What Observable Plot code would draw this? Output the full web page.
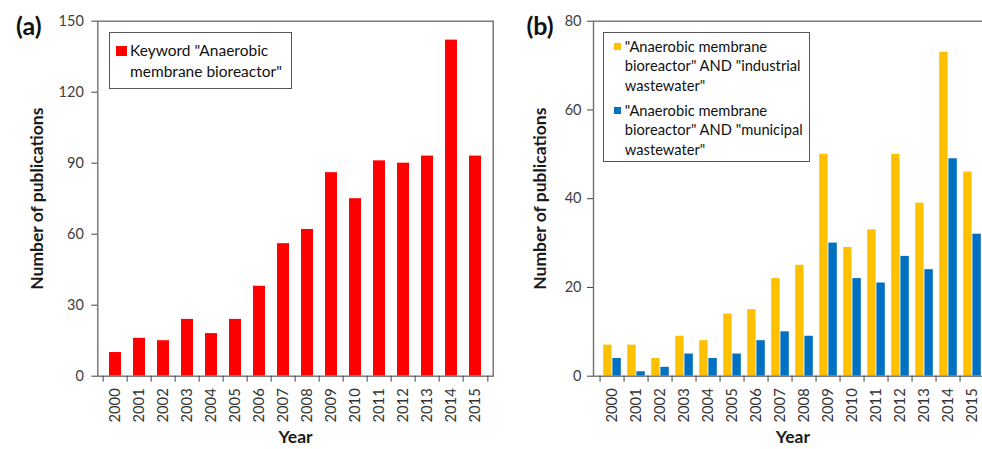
<!DOCTYPE html>
<html>
<head>
<meta charset="utf-8">
<script src="https://cdn.jsdelivr.net/npm/d3@7"></script>
<script src="https://cdn.jsdelivr.net/npm/@observablehq/plot@0.6"></script>
<style>
  html, body { margin: 0; padding: 0; background: #fff; overflow: hidden; }
  #wrap { position: relative; width: 982px; height: 449px; overflow: hidden; font-family: Lato, "Open Sans", sans-serif; }
  .panel { position: absolute; top: 0; }
  .legend { position: absolute; border: 1.5px solid #555; background: #fff; box-sizing: border-box; color: #111; font-family: Lato, sans-serif; }
  .item { position: absolute; }
  .sw { position: absolute; }
</style>
</head>
<body>
<div id="wrap"></div>
<script>
// ---- data ----
const years = ["2000","2001","2002","2003","2004","2005","2006","2007","2008","2009","2010","2011","2012","2013","2014","2015"];
const keywordCounts = [10,16,15,24,18,24,38,56,62,86,75,91,90,93,142,93];
const industrialCounts = [7,7,4,9,8,14,15,22,25,50,29,33,50,39,73,46];
const municipalCounts = [4,1,2,5,4,5,8,10,9,30,22,21,27,24,49,32];
const yTicksA = [0,30,60,90,120,150];
const yTicksB = [0,20,40,60,80];
const legendA = ['Keyword "Anaerobic', 'membrane bioreactor"'];
const legendB1 = ['"Anaerobic membrane', 'bioreactor" AND "industrial', 'wastewater"'];
const legendB2 = ['"Anaerobic membrane', 'bioreactor" AND "municipal', 'wastewater"'];

const RED = "#ff0000", YELLOW = "#ffc000", BLUE = "#0070c0";

const tableA = years.map((year, i) => ({year, count: keywordCounts[i]}));
const tableInd = years.map((year, i) => ({year, count: industrialCounts[i]}));
const tableMun = years.map((year, i) => ({year, count: municipalCounts[i]}));

function panel({width, ml, mr, yMax, yTicks, bars, tag, tagDx, titleX, tickPad}) {
  const mt = 20.7, mb = 73.3;
  const step = (width - ml - mr) / years.length;
  return Plot.plot({
    width, height: 449,
    marginLeft: ml, marginRight: mr, marginTop: mt, marginBottom: mb,
    x: {type: "band", domain: years, padding: 0, axis: null},
    y: {domain: [0, yMax], axis: null},
    style: {fontFamily: "Lato, sans-serif", fontSize: "14px", color: "#404040", background: "transparent", overflow: "visible"},
    marks: [
      ...bars,
      Plot.frame({stroke: "#707070", strokeWidth: 1.4}),
      Plot.axisY({ticks: yTicks, tickSize: 6, tickPadding: tickPad, fontSize: 14.5, color: "#404040", label: null}),
      Plot.axisX({tickSize: 6, text: null, dx: -step / 2, color: "#404040", label: null}),
      Plot.axisX({ticks: [years[years.length - 1]], tickSize: 6, text: null, dx: step / 2, color: "#404040", label: null}),
      Plot.axisX({tickSize: 0, tickPadding: 12, tickRotate: -90, fontSize: 14.8, color: "#333", label: null}),
      Plot.text(["Number of publications"], {frameAnchor: "left", textAnchor: "middle", lineAnchor: "middle", dx: titleX - ml, rotate: -90, fontWeight: "bold", fontSize: 17.5, fill: "#1a1a1a"}),
      Plot.text(["Year"], {frameAnchor: "bottom", textAnchor: "middle", lineAnchor: "middle", dy: 61, fontWeight: "bold", fontSize: 17.5, fill: "#1a1a1a"}),
      Plot.text([tag], {frameAnchor: "top-left", textAnchor: "middle", lineAnchor: "middle", dx: tagDx, dy: 5.5, fontWeight: "bold", fontSize: 25, fill: "#111"})
    ]
  });
}

const wrap = document.getElementById("wrap");

const plotA = panel({
  width: 500, ml: 97.3, mr: 7.3, yMax: 150, yTicks: yTicksA, tickPad: 8, tag: "(a)", tagDx: -69, titleX: 37,
  bars: [Plot.barY(tableA, {x: "year", y: "count", fill: RED, insetLeft: 6, insetRight: 6})]
});
plotA.classList.add("panel");
plotA.style.left = "0px";
wrap.appendChild(plotA);

const plotB = panel({
  width: 500, ml: 93, mr: 8.3, yMax: 80, yTicks: yTicksB, tickPad: 6, tag: "(b)", tagDx: -53.5, titleX: 40,
  bars: [
    Plot.barY(tableInd, {x: "year", y: "count", fill: YELLOW, insetLeft: 3.2, insetRight: 12.4}),
    Plot.barY(tableMun, {x: "year", y: "count", fill: BLUE, insetLeft: 12.4, insetRight: 3.2})
  ]
});
plotB.classList.add("panel");
plotB.style.left = "500px";
wrap.appendChild(plotB);

// ---- legends ----
function legend({left, top, width, height, entries, fontSize, lineH}) {
  const box = document.createElement("div");
  box.className = "legend";
  Object.assign(box.style, {left: left + "px", top: top + "px", width: width + "px", height: height + "px", fontSize: fontSize + "px"});
  for (const e of entries) {
    const sw = document.createElement("div");
    sw.className = "sw";
    Object.assign(sw.style, {left: e.sx + "px", top: e.sy + "px", width: e.sw + "px", height: e.sh + "px", background: e.color});
    box.appendChild(sw);
    e.lines.forEach((t, j) => {
      const d = document.createElement("div");
      d.className = "item";
      d.textContent = t;
      Object.assign(d.style, {left: e.tx + "px", top: (e.ty + j * lineH - lineH / 2) + "px", lineHeight: lineH + "px", whiteSpace: "nowrap"});
      box.appendChild(d);
    });
  }
  wrap.appendChild(box);
}

legend({left: 109, top: 32.3, width: 183.3, height: 56.7, fontSize: 15.5, lineH: 21,
  entries: [{color: RED, sx: 5.5, sy: 12.5, sw: 11, sh: 10.7, tx: 20, ty: 17.5, lines: legendA}]});

legend({left: 603.3, top: 32.3, width: 206.7, height: 129.4, fontSize: 14.7, lineH: 19.5,
  entries: [
    {color: YELLOW, sx: 9.5, sy: 9.5, sw: 7, sh: 7, tx: 20.5, ty: 13, lines: legendB1},
    {color: BLUE, sx: 9.5, sy: 74, sw: 7, sh: 7, tx: 20.5, ty: 77, lines: legendB2}
  ]});
</script>
</body>
</html>
